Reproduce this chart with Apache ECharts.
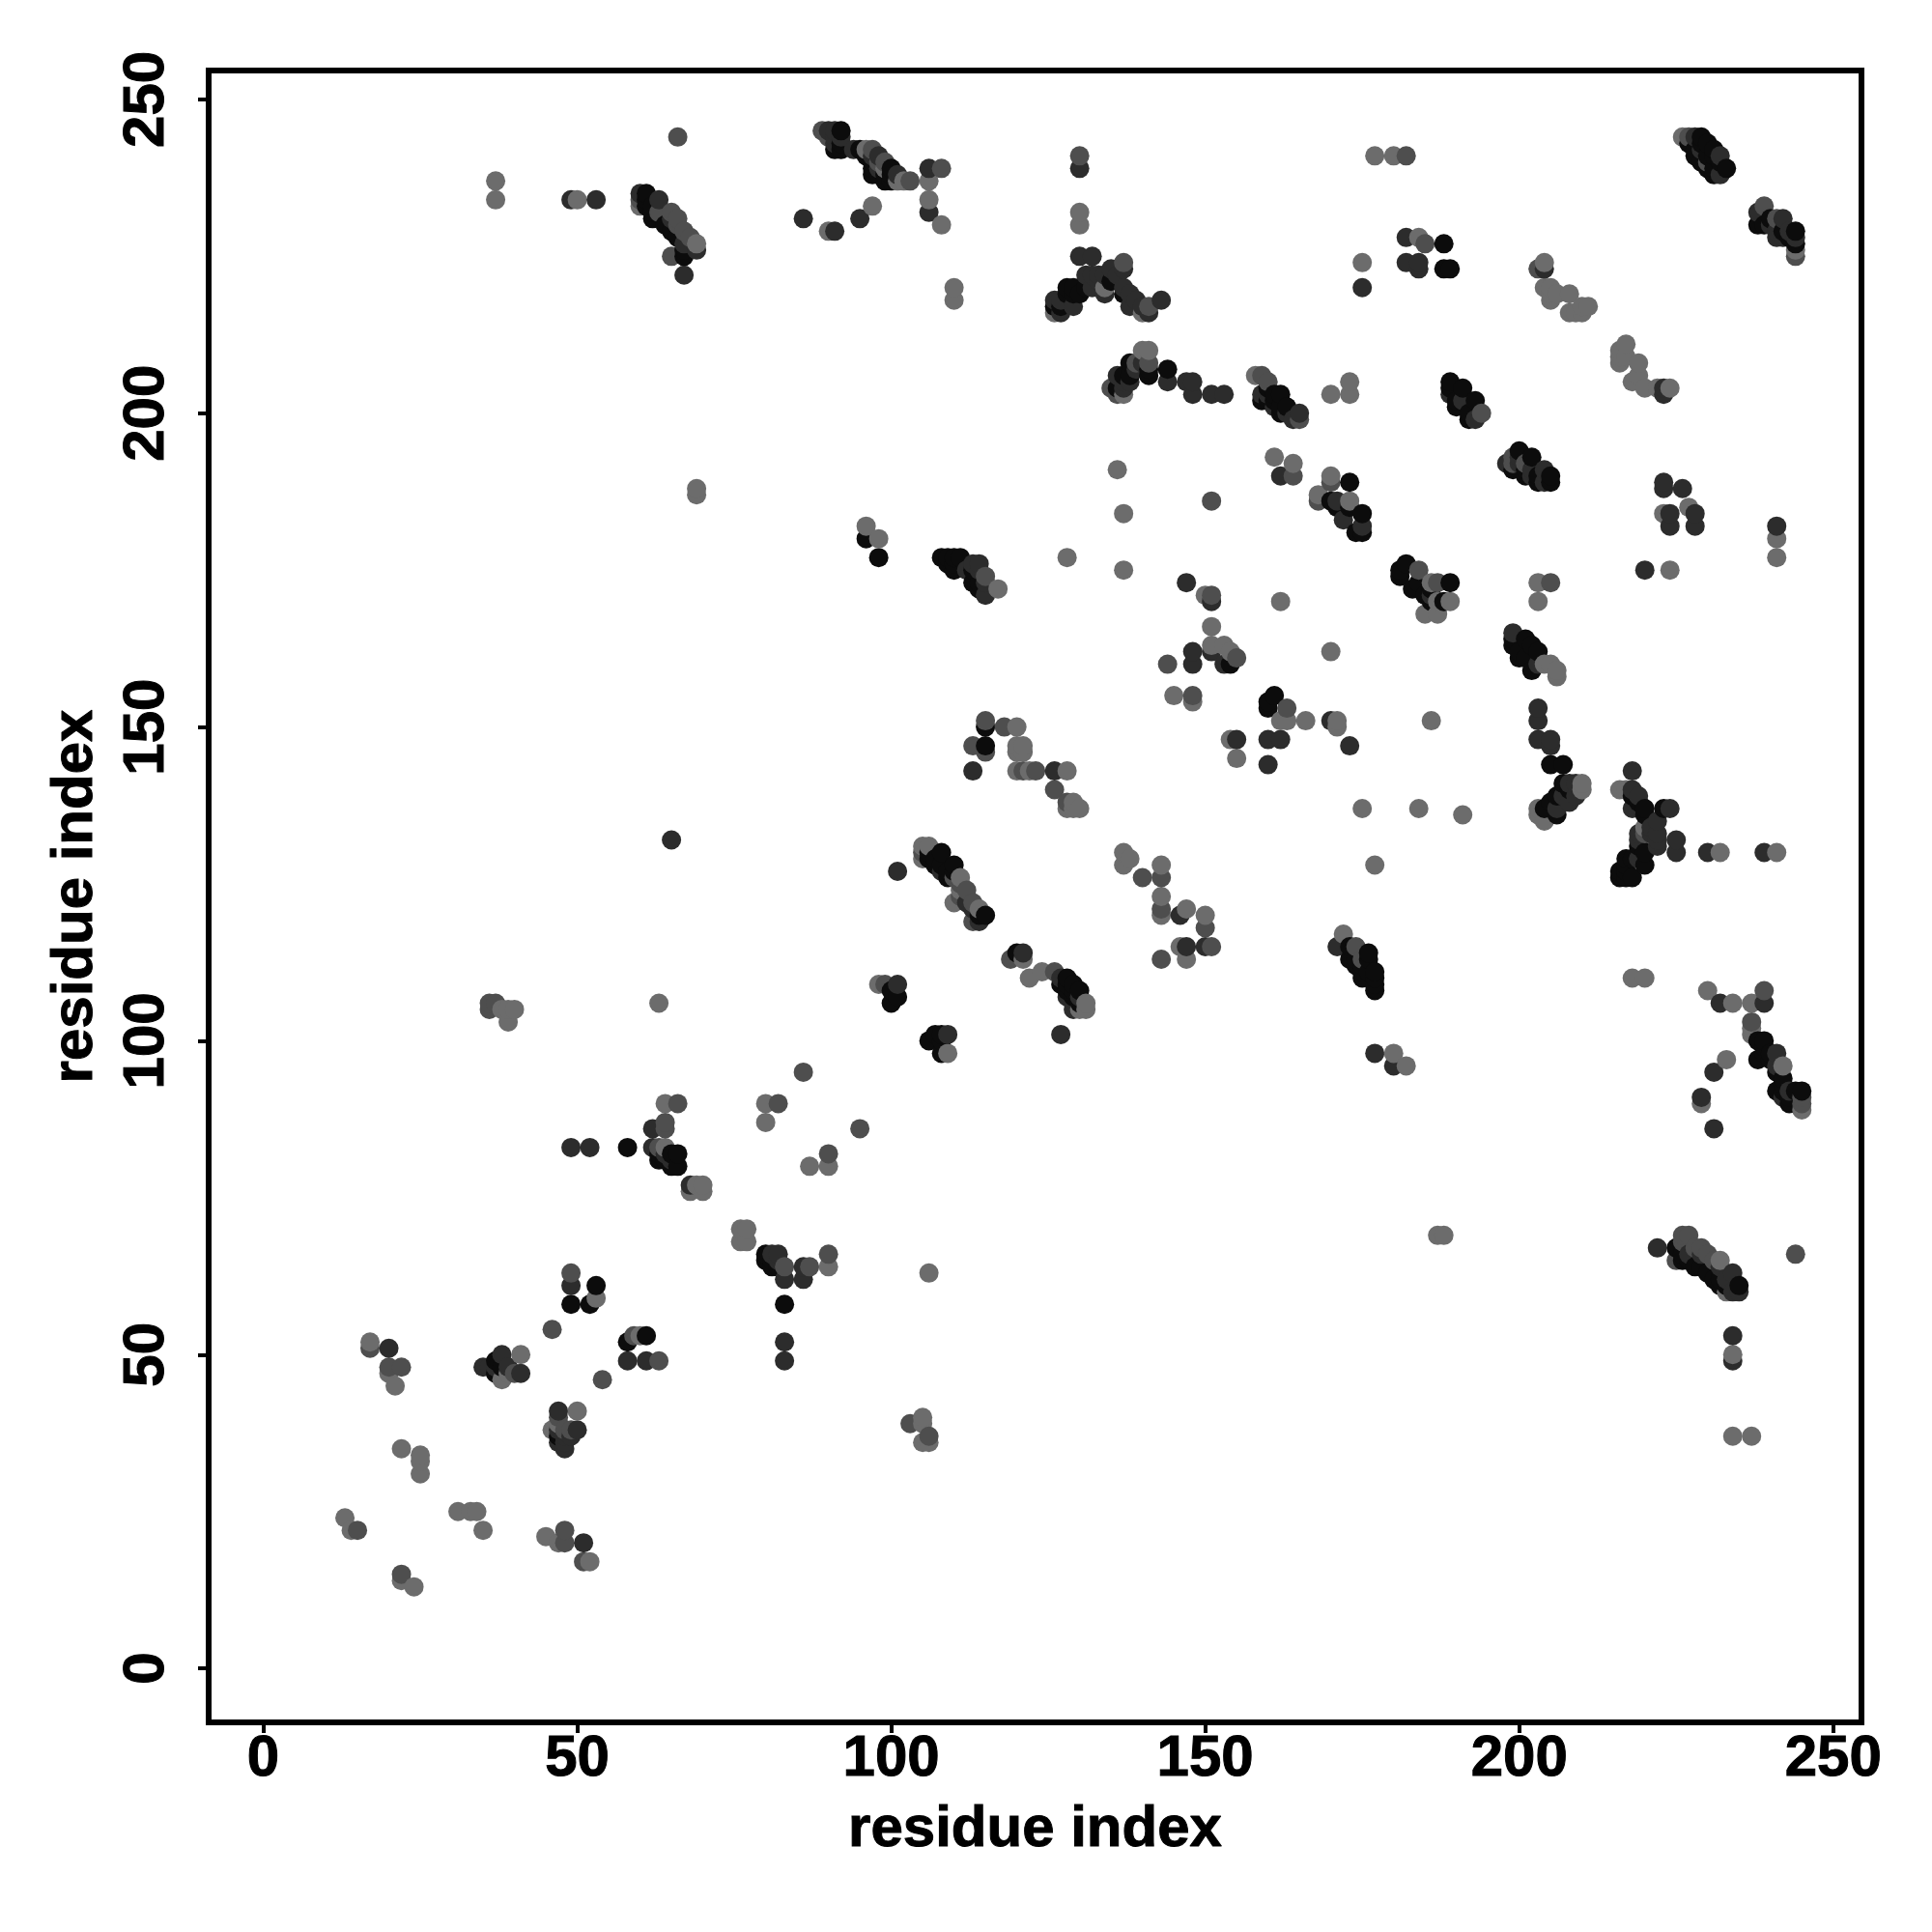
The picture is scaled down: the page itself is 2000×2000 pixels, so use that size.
<!DOCTYPE html>
<html>
<head>
<meta charset="utf-8">
<style>html,body{margin:0;padding:0;background:#fff}#c{width:2000px;height:2000px}</style>
<script src="https://cdn.jsdelivr.net/npm/echarts@6/dist/echarts.min.js"></script>
</head>
<body>
<div id="c"></div>
<script>
const tickValues = [0, 50, 100, 150, 200, 250];
const xTitle = 'residue index';
const yTitle = 'residue index';
// contacts [i, j], grouped by grey tone
const lightContacts = [
[37,237],[37,234],[50,234],[60,233],[69,227],[96,242],[99,239],[101,237],[102,237],[106,237],[106,234],[108,230],[90,229],[97,233],[110,220],[110,218],[69,188],[69,187],[96,182],[98,180],[117,172],[120,150],[120,147],[120,146],[120,143],[121,147],[121,146],[122,143],[128,143],[128,137],[129,137],[130,137],[129,138],[105,131],[106,131],[105,129],[111,126],[111,124],[110,122],[114,121],
[130,232],[130,230],[134,220],[140,216],[126,216],[141,210],[140,210],[137,203],[158,206],[170,203],[173,205],[173,203],[216,210],[216,208],[217,211],[219,208],[218,205],[220,204],[219,206],[222,204],[224,204],[216,209],[217,209],[226,244],[177,241],[180,241],[184,228],[175,224],[204,224],[204,220],[205,220],[205,218],[206,219],[208,219],[208,216],[209,216],[210,216],[211,217],[210,217],[205,219],[244,226],
[136,191],[137,184],[128,177],[137,175],[161,193],[164,192],[170,190],[168,187],[173,186],[186,173],[187,168],[189,170],[185,168],[227,185],[223,184],[241,180],[241,177],[224,175],[203,173],[203,170],[162,170],[150,171],[151,166],[151,163],[153,163],[154,162],[145,155],[148,154],[170,162],[162,151],[163,151],[166,151],[171,151],[171,150],[186,151],[154,148],[155,145],[175,137],[184,137],[191,136],[210,141],[210,140],[203,137],[203,136],[204,135],[216,140],[217,140],[220,134],[232,130],[241,130],[137,130],[138,129],[137,128],[143,128],[177,128],
[143,123],[143,120],[147,121],[150,120],[146,115],[147,113],[172,117],[180,98],[182,96],[122,110],[124,111],[131,106],[131,105],[130,105],[187,69],[188,69],[232,65],[233,60],[234,50],[234,37],[237,37],[218,110],[220,110],[230,108],[234,106],[237,106],[237,102],[237,101],[242,96],[245,89],[233,97],[229,90],
[39,105],[40,105],[38,105],[39,103],[63,106],[64,90],[80,90],[80,87],[64,83],[90,80],[87,80],[70,77],[69,77],[68,76],[70,76],[76,70],[77,70],[76,68],[77,68],[90,64],[106,63],[53,59],[60,53],[17,52],[20,47],[21,45],[22,35],[25,34],[25,33],[25,31],[13,24],[14,22],[31,25],[33,25],[34,25],[35,22],[45,21],[47,20],[52,17],[22,14],[24,13],[38,46],[39,47],[41,50],[47,39],[50,41],[46,38],[105,40],[105,39],[105,36],[106,36],[98,109],[109,98],[121,113],
[204,160],[205,160],[206,159],[206,158],[187,170]
];
const midContacts = [
[66,244],[60,234],[63,232],[65,232],[66,231],[66,230],[67,229],[68,228],[65,225],[89,245],[90,244],[97,242],[98,240],[103,237],[108,239],[115,174],[115,151],[118,150],[113,147],[115,146],[121,143],[123,143],[126,140],[128,138],[105,130],[110,126],[111,123],[113,122],[113,119],
[130,241],[137,224],[135,204],[136,203],[141,208],[159,206],[160,205],[165,199],[194,200],[227,244],[182,241],[185,227],[203,223],[244,225],[239,233],
[151,186],[164,190],[168,186],[170,189],[201,192],[184,175],[205,173],[151,171],[155,161],[144,160],[148,155],[163,153],[143,126],[140,126],[143,121],[150,118],[151,115],[143,113],[174,115],[126,111],[229,67],[230,66],[226,69],[227,69],[225,65],[244,66],[239,108],[237,103],[245,91],[245,90],
[36,105],[37,106],[36,106],[86,95],[66,90],[82,90],[95,86],[64,87],[64,86],[90,82],[83,64],[87,64],[90,66],[49,63],[46,54],[59,53],[63,49],[54,46],[17,51],[20,48],[22,48],[15,22],[48,22],[48,20],[51,17],[22,15],[40,47],[47,40],[49,38],[103,39],[106,37],[99,109],[119,113],
[187,173],[220,133],[228,67],[226,68],[231,65],[230,240],[241,231],[199,193],[199,192],[111,125],[112,124],[175,113],[139,208],[141,217],[99,240],[63,83],[48,38]
];
const darkContacts = [
[49,234],[53,234],[60,235],[63,234],[65,231],[67,227],[69,226],[67,222],[90,245],[91,245],[91,244],[91,243],[92,244],[97,241],[98,241],[106,239],[106,232],[86,231],[91,229],[95,231],[114,176],[113,176],[114,175],[115,171],[112,175],[115,173],[113,143],[126,143],[65,132],[101,127],[108,127],
[130,239],[130,225],[132,225],[137,223],[135,223],[134,222],[132,222],[131,222],[134,219],[137,220],[138,219],[140,217],[143,218],[138,217],[126,218],[127,216],[129,217],[127,218],[144,205],[147,205],[148,205],[148,203],[151,203],[153,203],[138,205],[136,206],[159,203],[161,201],[163,200],[164,199],[189,203],[191,202],[193,199],[223,203],[223,204],[228,244],[232,238],[182,228],[182,224],[184,224],[184,223],[204,223],[175,220],[238,232],[242,231],[241,228],[244,228],
[171,186],[172,183],[175,182],[198,192],[204,191],[162,190],[223,189],[223,188],[226,188],[228,184],[224,184],[224,182],[228,182],[241,182],[220,175],[147,173],[151,170],[151,162],[148,162],[148,160],[153,160],[203,153],[203,151],[203,148],[205,148],[205,147],[206,137],[208,138],[170,151],[173,147],[155,148],[160,148],[162,148],[160,144],[218,143],[224,137],[222,135],[222,132],[225,132],[225,130],[230,130],[239,130],[218,140],[146,120],
[147,115],[150,115],[171,115],[177,98],[180,96],[127,110],[129,105],[127,101],[222,67],[232,64],[234,63],[234,60],[234,53],[234,49],[232,106],[239,106],[241,98],[231,95],[229,91],[231,86],[235,60],[242,91],
[62,86],[49,83],[52,83],[62,83],[68,77],[82,66],[83,62],[86,64],[86,62],[49,61],[58,49],[61,49],[83,52],[83,49],[20,51],[51,20],[35,48],[36,48],[38,50],[41,47],[47,41],[50,38],[48,37],[47,36],[48,35],[109,101],[101,109],[121,114],
[199,165],[203,160],[186,171],[207,139],[209,141],[208,141],[209,139],[219,139],[218,137],[221,133],[219,129],[219,132],[219,133],[221,134],[222,133],[222,131],[241,96],[243,92],[227,66],[229,66],[233,62],[229,242],[232,241],[240,230],[243,229],[241,229],[242,228],[200,192],[202,191],[204,189],[202,190],[200,193],[160,203],[165,200],[130,107],[128,107],[129,106],[112,122],[113,121],[114,119],[137,205],[139,207],[140,208],[137,204],[133,222],[132,220],[133,221],[136,222],[139,218],[141,216],[94,242],[101,238],[98,239],[65,81],[64,82],[81,66],[82,65],[39,48],[37,48],[47,38],[48,36],[49,37]
];
const blackContacts = [
[61,235],[61,234],[61,233],[62,233],[62,232],[62,231],[64,230],[65,229],[66,228],[67,226],[67,225],[92,245],[92,243],[91,242],[92,242],[95,242],[97,239],[97,238],[100,239],[98,238],[99,237],[100,237],[100,238],[96,180],[98,177],[108,177],[109,177],[110,177],[111,177],[110,175],[109,176],[110,176],[113,173],[113,175],[114,173],[114,172],[115,150],[115,147],[108,130],[106,130],[107,128],[110,128],[109,126],[106,129],[107,129],[108,128],[114,120],[115,120],
[128,220],[131,220],[130,219],[128,219],[127,217],[126,217],[137,219],[136,204],[138,208],[141,207],[144,207],[162,203],[161,203],[160,202],[159,202],[162,201],[189,205],[189,204],[191,204],[190,201],[190,202],[192,200],[192,199],[193,202],[188,227],[188,223],[189,223],[229,244],[228,242],[228,241],[227,243],[231,242],[231,241],[230,239],[233,239],[231,239],[238,230],[239,230],[240,231],[244,229],[244,227],[242,229],
[173,189],[170,186],[171,185],[173,185],[175,184],[174,181],[175,181],[200,194],[202,193],[201,190],[205,189],[203,189],[199,191],[182,176],[181,175],[184,173],[183,172],[181,174],[186,170],[188,170],[189,173],[154,160],[160,154],[161,155],[160,153],[205,144],[207,144],[207,141],[208,140],[206,136],[205,138],[204,137],[218,139],[220,137],[223,137],[219,131],[220,128],[217,128],[216,126],[217,126],[218,126],[220,130],
[177,110],[177,109],[177,108],[176,111],[176,114],[175,110],[173,113],[173,115],[176,113],[177,111],[128,110],[130,108],[128,108],[127,109],[225,67],[229,64],[231,62],[235,61],[239,100],[238,100],[238,97],[239,98],[240,97],[241,95],[242,94],[242,92],[244,92],[245,92],[243,91],
[58,83],[63,81],[65,82],[66,82],[65,80],[66,80],[80,66],[80,65],[81,64],[83,58],[49,58],[52,58],[53,61],[58,52],[61,53],[37,49],[38,48],[37,47],[47,37],[100,108],[101,107],[100,106],[106,100],[107,101],[108,101],[108,98],[108,100],[120,114],
[199,164],[199,163],[201,164],[200,162],[202,163],[203,162],[200,161],[202,159],[201,161],[185,171],[186,172],[206,139],[219,138],[220,136],[218,129],[217,129],[216,127],[217,127],[239,99],[240,98],[242,93],[241,92],[243,90],[226,66],[227,65],[228,64],[230,63],[232,62],[233,61],[232,61],[226,65],[229,243],[230,243],[230,241],[229,240],[232,240],[231,238],[243,228],[201,191],[203,190],[205,190],[161,202],[162,200],[163,201],[160,204],[129,108],[129,107],[128,109],[129,109],[130,106],[109,127],[110,127],[174,113],[175,112],[175,111],[174,112],[137,206],[138,206],[141,206],[129,219],[129,220],[135,221],[96,241],[97,240],[99,238],[63,82],[64,81],[81,65],[82,64]
];
const toneGreys = { light: '#6c6c6c', mid: '#4e4e4e', dark: '#2c2c2c', black: '#0c0c0c' };

const points = [];
[[lightContacts,'light'],[midContacts,'mid'],[darkContacts,'dark'],[blackContacts,'black']].forEach(([list,tone]) => {
  list.forEach(p => points.push({ value: p, itemStyle: { color: toneGreys[tone] } }));
});
points.sort((a,b) => a.value[0]-b.value[0] || a.value[1]-b.value[1]);

const font = 'Liberation Sans';
const textStyle = { fontFamily: font, fontWeight: 'bold', fontSize: 60, color: '#000', textBorderColor: '#000', textBorderWidth: 1 };
function axis(min, max, extra) {
  return Object.assign({
    type: 'value', min, max, nameLocation: 'middle',
    nameTextStyle: textStyle,
    axisLine: { show: false, onZero: false },
    splitLine: { show: false },
    axisTick: { show: true, length: 11, inside: false, customValues: tickValues, lineStyle: { color: '#000', width: 4 } }
  }, extra);
}
const chart = echarts.init(document.getElementById('c'), null, { renderer: 'canvas' });
chart.setOption({
  animation: false,
  backgroundColor: '#fff',
  grid: { left: 216, top: 73, width: 1711, height: 1710, show: true, borderColor: '#000', borderWidth: 6, backgroundColor: 'transparent' },
  xAxis: axis(-8.7, 254.5, {
    name: xTitle, nameGap: 81,
    axisLabel: Object.assign({ customValues: tickValues, margin: 8, formatter: v => String(v) }, textStyle)
  }),
  yAxis: axis(-8.6, 254.6, {
    name: yTitle, nameGap: 108,
    axisLabel: Object.assign({ customValues: tickValues, rotate: 90, margin: 34, formatter: v => String(v) }, textStyle)
  }),
  series: [{
    type: 'scatter', symbol: 'circle', symbolSize: 20, data: points, clip: false,
    itemStyle: { opacity: 1 }, emphasis: { disabled: true }, large: false
  }]
});
</script>
</body>
</html>
